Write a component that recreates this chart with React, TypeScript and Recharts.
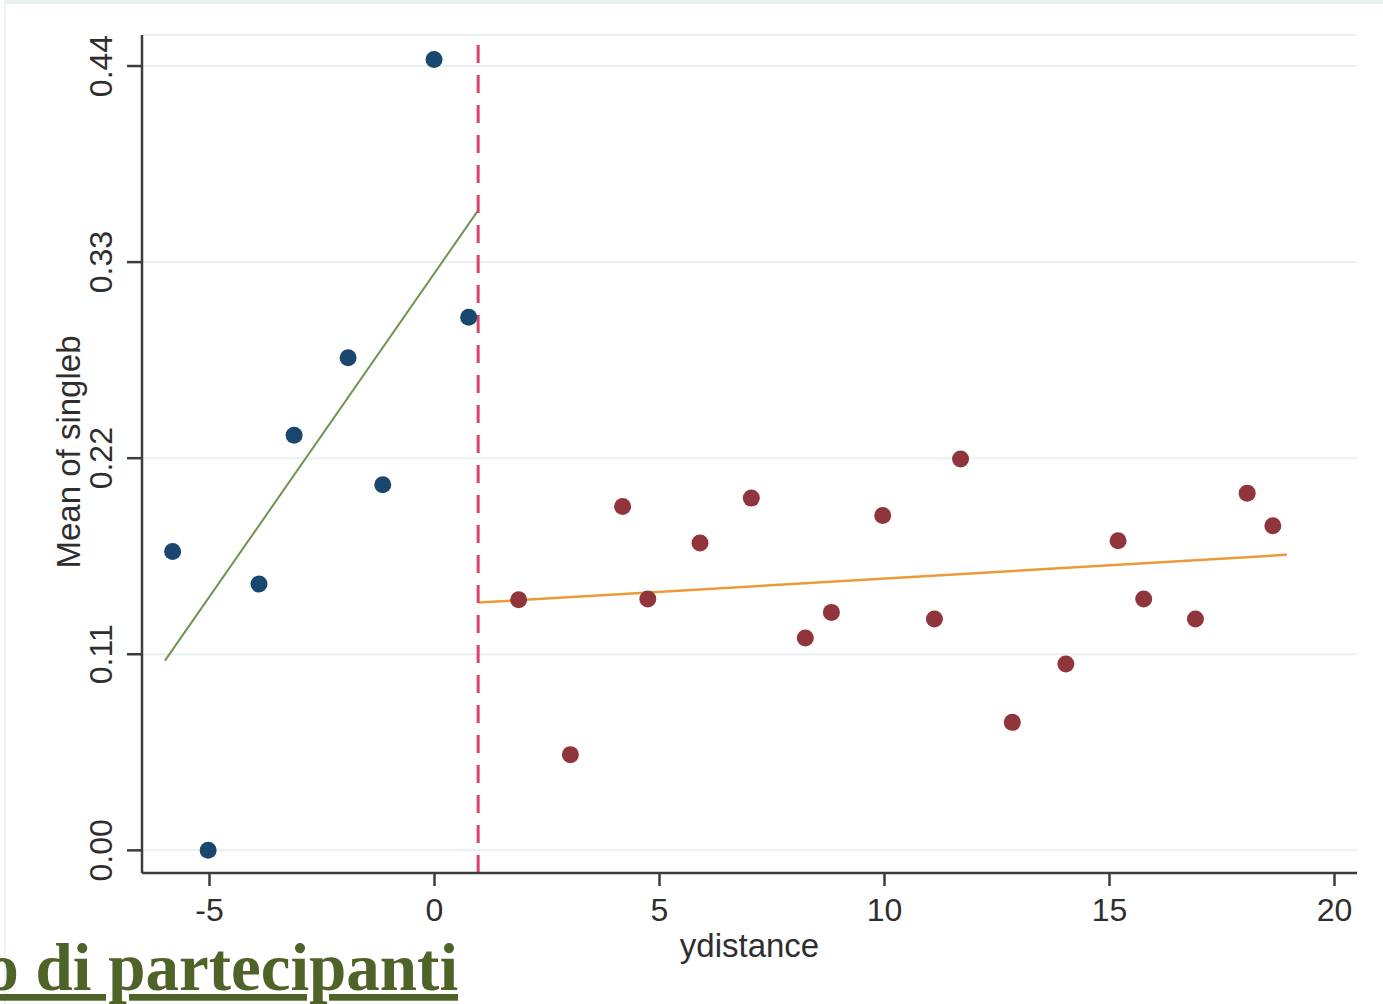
import React from 'react';
import {
  ComposedChart,
  Scatter,
  Line,
  XAxis,
  YAxis,
  CartesianGrid,
  ReferenceLine,
} from 'recharts';

// Left of cutoff (navy points)
const blueX = [-5.82, -5.03, -3.9, -3.12, -1.92, -1.15, -0.01, 0.76];
const blueY = [0.1677, 0.0, 0.1494, 0.2329, 0.2764, 0.2051, 0.4437, 0.2991];

// Right of cutoff (maroon points)
const redX = [1.87, 3.02, 4.18, 4.74, 5.9, 7.04, 8.24, 8.82, 9.96, 11.11, 11.69, 12.84, 14.03, 15.19, 15.76, 16.91, 18.06, 18.63];
const redY = [0.1406, 0.0537, 0.1929, 0.141, 0.1724, 0.1976, 0.1191, 0.1335, 0.1879, 0.1298, 0.2196, 0.0718, 0.1045, 0.1737, 0.141, 0.1298, 0.2004, 0.1821];

// Linear fits
const fitLeftX = [-5.99, 0.95];
const fitLeftY = [0.1064, 0.3583];
const fitRightX = [0.98, 18.94];
const fitRightY = [0.139, 0.1658];

const cutoff = 0.97;

const xTicks = [-5, 0, 5, 10, 15, 20];
const yTicks = [0, 0.11, 0.22, 0.33, 0.44];

const xLabel = 'ydistance';
const yLabel = 'Mean of singleb';
const footerText = 'o di partecipanti';

const zip = (xs: number[], ys: number[]) => xs.map((x, i) => ({ x, y: ys[i] }));

const blueData = zip(blueX, blueY);
const redData = zip(redX, redY);
const leftFit = zip(fitLeftX, fitLeftY);
const rightFit = zip(fitRightX, fitRightY);

const FONT = '"Liberation Sans", Arial, sans-serif';
const TEXT = '#2e2e2e';
const AXIS = '#3c3c3c';

const YTick = (props: any) => {
  const { x, y, payload } = props;
  return (
    <text
      x={x}
      y={y}
      transform={`rotate(-90, ${x}, ${y})`}
      textAnchor="middle"
      fontFamily={FONT}
      fontSize={32}
      fill={TEXT}
    >
      {Number(payload.value).toFixed(2)}
    </text>
  );
};

const YLabel = (props: any) => {
  const vb = props.viewBox || {};
  const cy = (vb.y ?? 35) + (vb.height ?? 838) / 2 - 2;
  const x = 80;
  return (
    <text
      x={x}
      y={cy}
      transform={`rotate(-90, ${x}, ${cy})`}
      textAnchor="middle"
      fontFamily={FONT}
      fontSize={33}
      fill={TEXT}
    >
      {yLabel}
    </text>
  );
};

const dot = (color: string) => (props: any) => (
  <circle cx={props.cx} cy={props.cy} r={8.5} fill={color} />
);

export default function App() {
  return (
    <div
      style={{
        position: 'absolute',
        left: 0,
        top: 0,
        width: 1383,
        height: 1004,
        background: '#ffffff',
        overflow: 'hidden',
      }}
    >
      <div
        style={{
          position: 'absolute',
          left: 4,
          top: 0,
          width: 1379,
          height: 1004,
          borderTop: '4px solid #e9f1f3',
          borderLeft: '2px solid #edf3f5',
          boxSizing: 'border-box',
        }}
      />
      <div style={{ position: 'absolute', left: 0, top: 0 }}>
        <ComposedChart
          width={1383}
          height={1004}
          margin={{ top: 35, right: 26, bottom: 0, left: 0 }}
        >
          <CartesianGrid
            horizontal
            vertical={false}
            stroke="#e8f0f2"
            strokeWidth={2}
          />
          <XAxis
            type="number"
            dataKey="x"
            domain={[-6.5, 20.5]}
            ticks={xTicks}
            allowDataOverflow
            height={131}
            tickSize={13}
            tickMargin={12}
            stroke={AXIS}
            strokeWidth={2.5}
            tick={{ fontSize: 32, fontFamily: FONT, fill: TEXT }}
            label={{
              value: xLabel,
              position: 'insideBottom',
              offset: 47,
              fontSize: 33,
              fontFamily: FONT,
              fill: TEXT,
            }}
          />
          <YAxis
            type="number"
            dataKey="y"
            domain={[-0.0127, 0.4574]}
            ticks={yTicks}
            allowDataOverflow
            width={142}
            tickSize={15}
            tickMargin={15}
            stroke={AXIS}
            strokeWidth={2.5}
            tick={<YTick />}
            label={<YLabel />}
          />
          <Scatter
            data={blueData}
            dataKey="y"
            fill="#1a476f"
            shape={dot('#1a476f')}
            isAnimationActive={false}
          />
          <Scatter
            data={redData}
            dataKey="y"
            fill="#90353b"
            shape={dot('#90353b')}
            isAnimationActive={false}
          />
          <Line
            data={leftFit}
            dataKey="y"
            stroke="#6f9450"
            strokeWidth={2}
            dot={false}
            activeDot={false}
            isAnimationActive={false}
          />
          <Line
            data={rightFit}
            dataKey="y"
            stroke="#eb9a35"
            strokeWidth={2.5}
            dot={false}
            activeDot={false}
            isAnimationActive={false}
          />
          <ReferenceLine
            x={cutoff}
            stroke="#d9436c"
            strokeWidth={3}
            strokeDasharray="18 12"
          />
        </ComposedChart>
      </div>
      <svg
        width={1383}
        height={1004}
        style={{ position: 'absolute', left: 0, top: 0, pointerEvents: 'none' }}
      >
        <text
          x={458}
          y={990}
          textAnchor="end"
          fontFamily='"Liberation Serif", "Times New Roman", serif'
          fontWeight="bold"
          fontSize={67}
          fill="#4f6228"
          textDecoration="underline"
        >
          {footerText}
        </text>
      </svg>
    </div>
  );
}
